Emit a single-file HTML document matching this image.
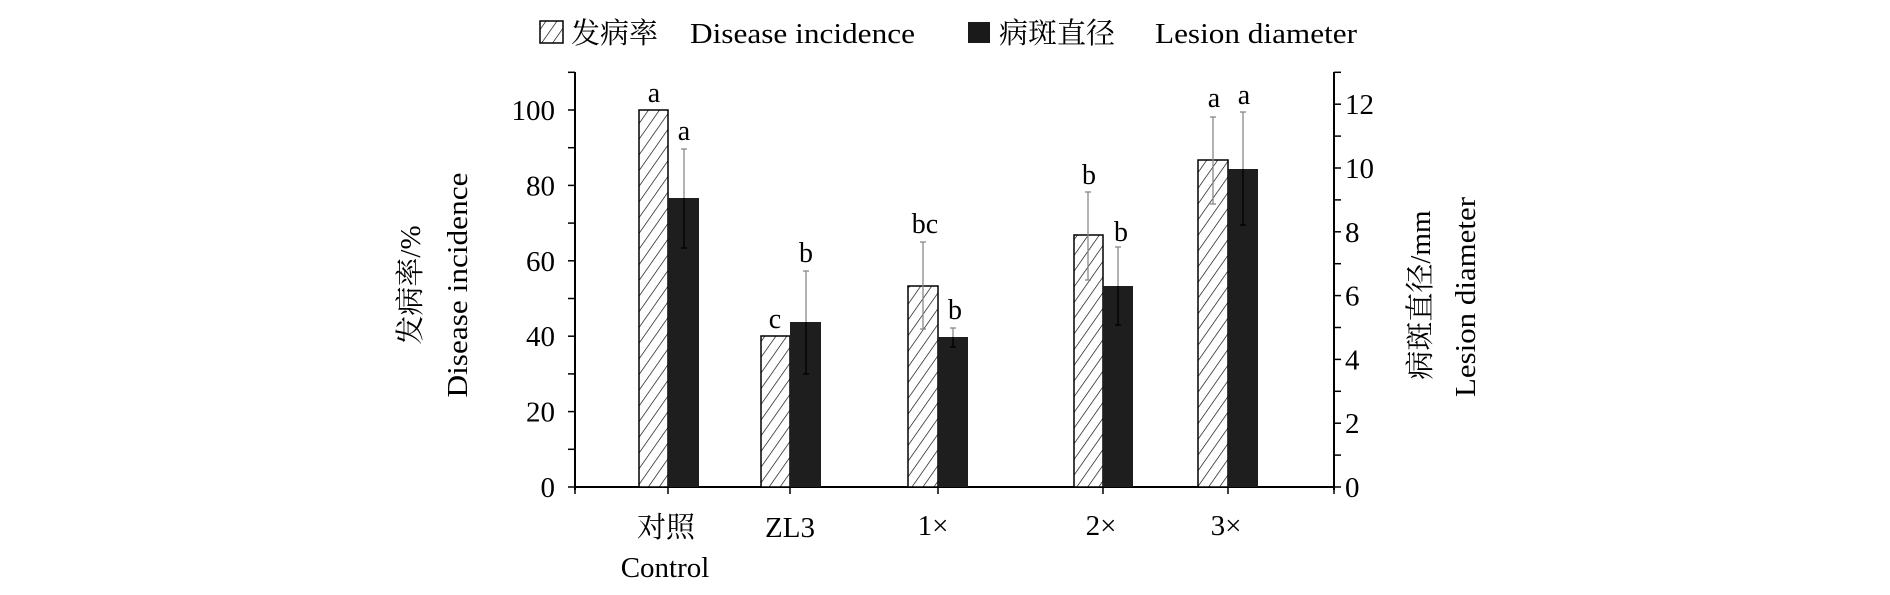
<!DOCTYPE html>
<html><head><meta charset="utf-8"><style>html,body{margin:0;padding:0;background:#fff}</style></head>
<body>
<svg width="1890" height="590" xmlns="http://www.w3.org/2000/svg" font-family="Liberation Serif, Noto Serif CJK SC, serif" font-size="29">
<defs>
<pattern id="h" patternUnits="userSpaceOnUse" width="9" height="9" patternTransform="rotate(35)">
<rect width="9" height="9" fill="#fff"/><line x1="0" y1="0" x2="0" y2="9" stroke="#000" stroke-width="1.3"/>
</pattern>
</defs>
<!-- legend -->
<rect x="540" y="21" width="23" height="22" fill="url(#h)" stroke="#000" stroke-width="1.5"/>
<text x="571" y="43">发病率</text>
<text x="690" y="43" textLength="225" lengthAdjust="spacingAndGlyphs">Disease incidence</text>
<rect x="968" y="22" width="22" height="21" fill="#1a1a1a"/>
<text x="999" y="43">病斑直径</text>
<text x="1155" y="43" textLength="202" lengthAdjust="spacingAndGlyphs">Lesion diameter</text>
<!-- axes -->
<g stroke="#000" stroke-width="2">
<line x1="575" y1="72" x2="575" y2="490"/>
<line x1="1334" y1="72" x2="1334" y2="490"/>
<line x1="575" y1="487" x2="1334" y2="487"/>
</g>
<g stroke="#000" stroke-width="1.5">
<line x1="568" y1="487" x2="575" y2="487"/><line x1="568" y1="449.3" x2="575" y2="449.3"/>
<line x1="568" y1="411.6" x2="575" y2="411.6"/><line x1="568" y1="373.9" x2="575" y2="373.9"/>
<line x1="568" y1="336.2" x2="575" y2="336.2"/><line x1="568" y1="298.5" x2="575" y2="298.5"/>
<line x1="568" y1="260.8" x2="575" y2="260.8"/><line x1="568" y1="223.1" x2="575" y2="223.1"/>
<line x1="568" y1="185.4" x2="575" y2="185.4"/><line x1="568" y1="147.7" x2="575" y2="147.7"/>
<line x1="568" y1="110" x2="575" y2="110"/><line x1="568" y1="72.3" x2="575" y2="72.3"/>
<line x1="1334" y1="487" x2="1341" y2="487"/><line x1="1334" y1="455.1" x2="1341" y2="455.1"/>
<line x1="1334" y1="423.2" x2="1341" y2="423.2"/><line x1="1334" y1="391.3" x2="1341" y2="391.3"/>
<line x1="1334" y1="359.4" x2="1341" y2="359.4"/><line x1="1334" y1="327.5" x2="1341" y2="327.5"/>
<line x1="1334" y1="295.6" x2="1341" y2="295.6"/><line x1="1334" y1="263.7" x2="1341" y2="263.7"/>
<line x1="1334" y1="231.8" x2="1341" y2="231.8"/><line x1="1334" y1="199.9" x2="1341" y2="199.9"/>
<line x1="1334" y1="168" x2="1341" y2="168"/><line x1="1334" y1="136.1" x2="1341" y2="136.1"/>
<line x1="1334" y1="104.2" x2="1341" y2="104.2"/><line x1="1334" y1="72.3" x2="1341" y2="72.3"/>
<line x1="575" y1="487" x2="575" y2="494"/><line x1="668" y1="487" x2="668" y2="494"/>
<line x1="790" y1="487" x2="790" y2="494"/><line x1="938" y1="487" x2="938" y2="494"/>
<line x1="1103" y1="487" x2="1103" y2="494"/><line x1="1228" y1="487" x2="1228" y2="494"/>
<line x1="1334" y1="487" x2="1334" y2="494"/>
</g>
<g text-anchor="end">
<text x="555" y="497">0</text><text x="555" y="421.6">20</text><text x="555" y="346.2">40</text>
<text x="555" y="270.8">60</text><text x="555" y="195.4">80</text><text x="555" y="120">100</text>
</g>
<g text-anchor="start">
<text x="1345" y="497">0</text><text x="1345" y="433.2">2</text><text x="1345" y="369.4">4</text>
<text x="1345" y="305.6">6</text><text x="1345" y="241.8">8</text><text x="1345" y="178">10</text><text x="1345" y="114.2">12</text>
</g>
<text transform="translate(420,285) rotate(-90)" text-anchor="middle">发病率/%</text>
<text transform="translate(467,285) rotate(-90)" text-anchor="middle" textLength="225" lengthAdjust="spacingAndGlyphs">Disease incidence</text>
<text transform="translate(1430,295) rotate(-90)" text-anchor="middle">病斑直径/mm</text>
<text transform="translate(1475,297) rotate(-90)" text-anchor="middle" textLength="200" lengthAdjust="spacingAndGlyphs">Lesion diameter</text>
<g fill="url(#h)" stroke="#000" stroke-width="1.5">
<rect x="639" y="110" width="29" height="377"/>
<rect x="761" y="336" width="29" height="151"/>
<rect x="908" y="286" width="30" height="201"/>
<rect x="1074" y="235" width="29" height="252"/>
<rect x="1198" y="160" width="30" height="327"/>
</g>
<g fill="#1e1e1e">
<rect x="668" y="198" width="31" height="289"/>
<rect x="790" y="322" width="31" height="165"/>
<rect x="938" y="337" width="30" height="150"/>
<rect x="1103" y="286" width="30" height="201"/>
<rect x="1228" y="169" width="30" height="318"/>
</g>
<g stroke="#888" stroke-width="1.3">
<line x1="923" y1="242" x2="923" y2="329"/><line x1="920" y1="242" x2="926" y2="242"/><line x1="920" y1="329" x2="926" y2="329"/>
<line x1="1088" y1="192" x2="1088" y2="280"/><line x1="1085" y1="192" x2="1091" y2="192"/><line x1="1085" y1="280" x2="1091" y2="280"/>
<line x1="1213" y1="117" x2="1213" y2="204"/><line x1="1210" y1="117" x2="1216" y2="117"/><line x1="1210" y1="204" x2="1216" y2="204"/>
</g>
<g stroke-width="1.3">
<g stroke="#888">
<line x1="684" y1="149" x2="684" y2="198"/><line x1="681" y1="149" x2="687" y2="149"/>
<line x1="806" y1="271" x2="806" y2="322"/><line x1="803" y1="271" x2="809" y2="271"/>
<line x1="953" y1="328" x2="953" y2="337"/><line x1="950" y1="328" x2="956" y2="328"/>
<line x1="1118" y1="247" x2="1118" y2="286"/><line x1="1115" y1="247" x2="1121" y2="247"/>
<line x1="1243" y1="112" x2="1243" y2="169"/><line x1="1240" y1="112" x2="1246" y2="112"/>
</g>
<g stroke="#000">
<line x1="684" y1="198" x2="684" y2="248"/><line x1="681" y1="248" x2="687" y2="248"/>
<line x1="806" y1="322" x2="806" y2="374"/><line x1="803" y1="374" x2="809" y2="374"/>
<line x1="953" y1="337" x2="953" y2="347"/><line x1="950" y1="347" x2="956" y2="347"/>
<line x1="1118" y1="286" x2="1118" y2="325"/><line x1="1115" y1="325" x2="1121" y2="325"/>
<line x1="1243" y1="169" x2="1243" y2="225"/><line x1="1240" y1="225" x2="1246" y2="225"/>
</g>
</g>
<g text-anchor="middle" font-size="28">
<text x="654" y="102">a</text><text x="684" y="140">a</text>
<text x="775" y="328">c</text><text x="806" y="262">b</text>
<text x="925" y="233">bc</text><text x="955" y="319">b</text>
<text x="1089" y="184">b</text><text x="1121" y="241">b</text>
<text x="1214" y="107">a</text><text x="1244" y="104">a</text>
</g>
<g text-anchor="middle">
<text x="666" y="537">对照</text><text x="665" y="577">Control</text>
<text x="790" y="537">ZL3</text>
<text x="933" y="535">1×</text>
<text x="1101" y="535">2×</text>
<text x="1226" y="535">3×</text>
</g>
</svg>
</body></html>
